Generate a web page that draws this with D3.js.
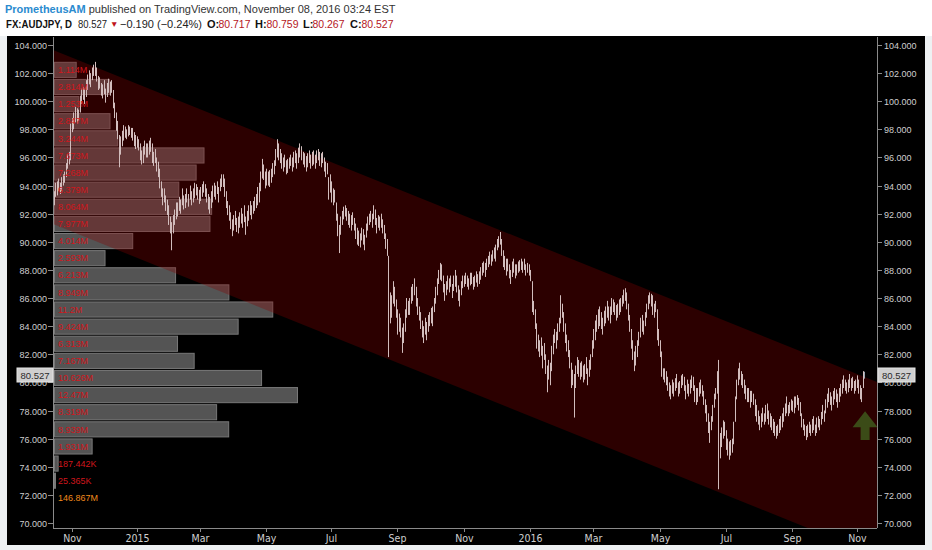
<!DOCTYPE html>
<html><head><meta charset="utf-8">
<script src="https://cdn.jsdelivr.net/npm/d3@7"></script>
<style>
html,body{margin:0;padding:0;background:#ffffff;}
svg{display:block;}
</style></head><body>
<svg id="c" width="932" height="550"></svg>
<script>
// ---------------- DATA ----------------
const startDate = "2014-10-16", endDate = "2016-11-08";   // daily bars (Mon-Fri)
const lows = [
92.6,93.2,
93.3,93.6,93.4,93.6,94.0, 94.2,94.6,95.2,95.5,95.8, 97.8,98.0,98.5,98.4,98.6, 99.2,99.8,100.1,99.8,100.3,
100.8,101.2,101.0,101.5,101.8, 101.8,101.4,100.8,100.9,100.4, 100.2,100.5,99.9,100.3,100.6, 100.4,100.6,99.5,98.8,97.9,
97.3,95.3,96.2,96.8,97.2, 97.4,97.3,97.5,97.6,97.4, 97.2,96.8,96.6,96.7,96.5, 95.8,95.5,95.6,96.2,96.0,
96.0,96.2,96.4,95.6,95.4, 95.6,95.0,94.6,93.8,93.2, 92.6,92.8,92.2,91.9,91.2, 90.6,89.4,90.6,91.2,91.6,
91.8,92.2,92.0,92.6,92.3, 92.4,92.8,92.5,93.0,92.6, 92.8,93.1,93.3,93.0,92.7, 92.9,93.2,93.5,93.2,92.8,
92.3,92.0,92.4,92.8,93.2, 93.0,93.4,92.8,93.6,93.9, 93.9,93.2,92.4,91.9,91.5, 90.9,90.4,90.8,91.2,90.7,
90.6,91.0,91.3,91.0,91.4, 90.5,91.1,91.5,91.9,91.6, 92.0,92.2,92.4,92.6,92.8, 93.6,94.5,94.4,93.8,94.0,
94.0,93.9,94.2,94.6,94.8, 95.4,96.0,95.8,95.6,95.2, 95.0,95.3,94.8,94.9,95.2, 95.4,95.0,95.3,95.6,95.2,
95.6,96.0,95.8,95.5,95.3, 95.0,95.3,95.6,95.2,95.4, 95.5,95.2,95.6,95.8,95.4, 95.3,95.6,95.0,94.6,94.8,
93.0,93.5,92.8,92.6,92.8, 91.5,90.4,89.2,90.5,91.2, 91.6,91.8,91.5,91.2,91.0, 90.8,91.2,90.8,90.2,89.8,
89.7,89.6,90.1,89.8,89.4, 90.3,90.8,91.2,91.4,91.0, 91.6,91.2,90.6,91.0,90.8, 91.0,90.6,90.2,89.5,89.0,
81.8,84.2,84.6,85.6,85.4, 84.6,83.4,83.6,83.2,82.1, 82.8,83.6,84.6,84.8,84.8, 85.6,85.8,86.2,85.4,84.8,
84.4,83.8,83.2,82.8,83.4, 83.0,83.6,84.0,84.2,84.0, 85.0,85.6,86.2,87.0,87.3, 87.2,86.4,85.8,86.2,86.6,
86.4,86.8,86.0,86.5,86.8, 86.4,85.8,85.4,86.2,86.7, 86.8,87.0,86.8,86.6,86.9, 87.0,86.6,86.8,87.1,86.8,
87.0,87.3,87.6,87.8,87.5, 88.0,88.2,88.4,88.3,88.6, 88.8,88.6,89.4,89.6,89.8, 89.0,88.2,88.0,87.6,87.9,
87.4,87.0,87.5,87.8,87.4, 87.6,87.8,87.9,88.0,87.8, 88.0,87.6,87.8,87.6,87.2, 85.0,84.8,83.8,82.4,82.2,
81.8,81.9,81.0,81.6,80.6, 79.3,80.2,79.8,80.8,82.0, 82.8,82.4,83.0,83.6,84.2, 84.6,83.6,82.8,82.2,81.8,
81.0,79.6,79.8,77.5,79.6, 80.6,80.4,80.2,80.4,80.0, 80.2,80.6,79.8,80.4,80.9, 81.8,82.4,83.0,83.6,83.8,
84.0,83.8,83.4,84.0,84.2, 84.6,84.4,84.2,84.8,85.0, 84.8,84.4,84.6,84.8,85.0, 85.4,85.6,85.8,85.2,84.4,
83.6,82.4,81.6,80.8,81.2, 81.8,82.6,83.2,83.6,83.4, 84.0,84.6,85.2,85.6,85.4, 84.8,84.6,85.0,83.0,82.6,
81.8,80.4,80.2,80.0,79.8, 79.4,79.0,78.8,79.2,79.0, 79.4,79.6,79.0,79.2,79.6, 79.8,79.4,78.8,79.2,79.0,
79.2,79.6,79.4,78.6,78.4, 78.6,79.0,79.2,79.0,78.4, 77.8,77.2,76.4,75.7,76.6, 77.2,78.2,78.8,79.2,72.4,
74.6,75.4,76.0,76.2,75.2, 74.8,74.5,74.8,75.0,75.6, 77.2,78.8,79.8,80.2,79.8, 79.6,79.2,78.8,78.6,78.6,
78.2,78.6,78.4,77.6,77.2, 77.0,76.6,76.8,77.2,77.0, 77.2,77.4,77.0,76.8,76.6, 76.4,76.2,76.0,76.2,76.4,
76.6,76.8,77.2,77.6,77.8, 77.6,77.8,78.0,77.9,77.8, 78.2,78.4,78.0,77.6,76.8, 76.6,76.2,75.9,76.1,76.4,
76.2,76.4,76.6,76.2,76.4, 76.8,76.6,77.0,77.4,77.2, 77.8,78.2,78.6,78.4,78.0, 78.4,78.8,78.6,78.2,78.6,
79.0,79.2,79.6,79.4,79.2, 79.3,79.6,79.4,79.6,79.2, 79.4,79.6,79.2,78.8,78.6,
79.6,80.267
];
const highs = [
93.6,94.2,
94.3,94.5,94.2,94.6,94.8, 95.0,95.6,96.2,96.4,98.4, 98.8,99.2,99.6,99.5,99.4, 100.4,100.9,101.0,100.9,101.5,
101.9,102.2,102.0,102.4,102.6, 102.8,102.4,101.8,101.7,101.3, 101.2,101.5,100.9,101.3,101.6, 101.4,101.5,100.8,99.9,99.2,
98.6,97.6,97.5,97.9,98.3, 98.2,98.0,98.3,98.2,98.1, 98.1,97.8,97.6,97.5,97.3, 97.0,96.5,96.8,97.2,97.0,
97.0,97.2,97.4,97.0,96.4, 96.6,96.0,95.7,95.2,94.3, 93.8,93.8,93.3,93.0,92.6, 91.8,91.4,91.9,92.3,92.8,
92.8,93.2,93.0,93.8,93.3, 93.4,93.8,93.4,94.0,93.6, 93.8,94.2,94.1,93.9,93.7, 93.9,94.1,94.3,94.1,93.8,
93.4,93.2,93.6,94.0,94.2, 94.0,94.3,93.9,94.5,94.8, 94.8,94.5,93.6,92.9,92.6, 92.1,91.6,91.9,92.2,91.7,
91.8,92.1,92.4,92.0,92.6, 91.8,92.2,92.6,92.9,92.6, 92.9,93.2,93.4,93.9,94.2, 95.0,95.9,95.5,95.0,95.2,
95.0,95.1,95.2,95.6,95.8, 96.6,97.3,97.0,96.6,96.3, 96.0,96.2,95.8,95.9,96.0, 96.2,96.0,96.4,96.5,96.3,
96.7,97.0,96.8,96.4,96.3, 96.1,96.3,96.5,96.2,96.4, 96.5,96.2,96.5,96.6,96.4, 96.3,96.4,96.0,95.7,95.6,
94.6,94.8,94.3,93.8,93.7, 92.8,92.0,91.2,91.8,92.2, 92.5,92.6,92.4,92.2,92.0, 91.9,92.1,91.7,91.3,91.0,
90.8,90.6,91.0,90.9,90.5, 91.3,91.8,92.0,92.2,92.0, 92.6,92.3,91.7,91.9,91.8, 92.0,91.6,91.2,90.6,90.2,
89.0,86.4,86.2,87.2,86.8, 85.9,85.2,84.9,84.6,83.9, 84.2,85.2,86.0,85.8,86.0, 86.8,87.0,87.4,86.8,86.0,
85.4,85.0,84.4,84.0,84.6, 84.3,84.8,85.0,85.3,85.4, 86.0,86.8,87.4,88.0,88.5, 88.4,87.6,87.0,87.2,87.6,
87.4,87.6,87.0,87.6,88.0, 87.6,86.9,86.6,87.2,87.6, 87.6,87.8,87.6,87.4,87.8, 87.8,87.5,87.6,87.9,87.7,
87.9,88.2,88.5,88.6,88.5, 88.8,89.0,89.3,89.1,89.4, 89.6,89.8,90.2,90.4,90.7, 90.2,89.4,89.0,88.8,88.8,
88.4,88.0,88.6,88.8,88.4, 88.4,88.6,88.7,88.8,88.6, 88.8,88.4,88.5,88.4,88.0, 87.2,85.8,85.2,84.2,83.4,
83.0,83.2,82.6,82.8,82.0, 81.2,81.6,81.4,82.6,83.4, 83.8,83.6,84.2,84.6,86.2, 85.6,85.0,84.2,83.4,83.0,
82.3,81.4,80.9,80.6,81.2, 81.8,81.6,81.4,81.5,81.2, 81.3,81.8,81.0,81.6,82.0, 83.0,83.8,84.4,84.8,85.2,
85.4,85.0,84.6,85.1,85.4, 85.8,85.4,85.4,86.0,85.9, 85.7,85.5,85.6,85.9,86.0, 86.2,86.6,86.7,86.4,85.6,
84.8,83.8,83.0,82.2,82.6, 83.0,83.6,84.6,84.8,84.4, 85.0,85.6,86.2,86.4,86.3, 86.2,85.6,85.8,85.2,83.8,
83.0,82.2,81.0,81.0,80.8, 80.4,80.0,79.8,80.2,80.0, 80.3,80.6,80.0,80.1,80.5, 80.6,80.4,79.8,80.2,79.9,
80.2,80.5,80.4,79.8,79.6, 79.6,80.0,80.2,79.8,79.4, 78.8,78.4,77.8,77.2,77.6, 78.4,79.2,79.6,80.8,81.6,
76.4,76.8,77.3,77.2,76.6, 76.0,75.8,75.9,76.0,77.2, 79.0,80.2,81.0,81.4,80.8, 80.6,80.2,79.8,79.6,79.6,
79.4,79.4,79.2,78.8,78.4, 78.0,77.6,77.8,78.2,77.8, 78.4,78.5,78.0,77.8,77.6, 77.4,77.2,76.9,77.0,77.4,
77.6,77.8,78.2,78.5,79.0, 78.4,78.6,78.8,78.7,79.0, 79.0,79.1,78.9,78.6,77.8, 77.4,77.0,76.9,77.0,77.2,
77.0,77.4,77.6,77.0,77.5, 77.6,77.4,77.9,78.4,78.0, 78.8,79.2,79.6,79.3,79.0, 79.4,79.6,79.5,79.2,79.6,
79.9,80.2,80.5,80.2,80.0, 80.2,80.6,80.3,80.4,80.1, 80.2,80.5,80.2,79.8,79.6,
80.8,80.759
];
const yTicks = [70,72,74,76,78,80,82,84,86,88,90,92,94,96,98,100,102,104];
const xTickDates  = ["2014-11-01","2015-01-01","2015-03-01","2015-05-01","2015-07-01","2015-09-01","2015-11-01",
                     "2016-01-01","2016-03-01","2016-05-01","2016-07-01","2016-09-01","2016-11-01"];
const xTickLabels = ["Nov","2015","Mar","May","Jul","Sep","Nov","2016","Mar","May","Jul","Sep","Nov"];
// volume profile rows, top (high price) to bottom
const profileVolumes = [1.114,2.814,1.253,2.847,3.244,7.673,7.268,6.379,8.064,7.977,4.014,2.593,6.213,
                        8.949,11.2,9.424,6.313,7.167,10.626,12.47,8.319,8.939,1.931,0.187442,0.025365];
const profileLabels  = ["1.114M","2.814M","1.253M","2.847M","3.244M","7.673M","7.268M","6.379M","8.064M","7.977M",
                        "4.014M","2.593M","6.213M","8.949M","11.2M","9.424M","6.313M","7.167M","10.626M","12.47M",
                        "8.319M","8.939M","1.931M","187.442K","25.365K"];
const profileTotal = "146.867M";
const profileRange = [72.40, 102.84];
// descending channel (bar-index, price)
const channelIdx   = [-0.6, 546.3];
const channelUpper = [103.64, 80.03];
const channelLower = [91.27, 67.66];
const lastPrice = 80.527;
const arrowMark = {idx: 538.4, top: 77.95, bottom: 75.9};
const header = {user:"PrometheusAM", pub:" published on TradingView.com, November 08, 2016 03:24 EST",
  sym:"FX:AUDJPY, D", last:"80.527", chg:"\u22120.190 (\u22120.24%)", O:"80.717", H:"80.759", L:"80.267", C:"80.527"};

// ---------------- LAYOUT ----------------
const svg = d3.select("#c");
const P = {left:53, right:877, top:37, bottom:528};
const FONT = "'Liberation Sans',Arial,sans-serif";
const parse = d3.utcParse("%Y-%m-%d");
const days = [];
for (let d = parse(startDate); d <= parse(endDate); d = d3.utcDay.offset(d,1)) {
  const wd = d.getUTCDay(); if (wd !== 0 && wd !== 6) days.push(d);
}
const x = d3.scaleLinear().domain([channelIdx[0], channelIdx[1]]).range([P.left, P.right]);
const y = d3.scaleLinear().domain([70,104]).range([523,45]);

// background
svg.append("rect").attr("x",0).attr("y",0).attr("width",932).attr("height",550).attr("fill","#ffffff");
svg.append("rect").attr("x",0).attr("y",36).attr("width",932).attr("height",514).attr("fill","#eef1f3");
svg.append("rect").attr("x",7).attr("y",36).attr("width",918).attr("height",509).attr("fill","#000");

// header
const h1 = svg.append("text").attr("x",5).attr("y",13).attr("font-family",FONT).attr("font-size",11);
h1.append("tspan").attr("font-weight","bold").attr("fill","#2b8bcf").text(header.user);
h1.append("tspan").attr("fill","#333").text(header.pub);
function htxt(px, str, opts={}) {
  const t = svg.append("text").attr("x",px).attr("y",opts.y||28).attr("font-family",FONT)
    .attr("font-size",opts.size||11).attr("fill",opts.fill||"#222").text(str);
  if (opts.bold) t.attr("font-weight","bold");
  if (opts.len) t.attr("textLength",opts.len).attr("lengthAdjust","spacingAndGlyphs");
  return t;
}
htxt(6, header.sym, {bold:true, fill:"#111", size:10.2, len:66});
htxt(78, header.last, {len:29});
htxt(110, "\u25BC", {fill:"#c0141b", size:8.5, y:27});
htxt(120, header.chg, {len:82});
[["O:",207,header.O],["H:",255,header.H],["L:",303,header.L],["C:",350,header.C]].forEach(([k,px,v])=>{
  const kl = k==="L:" ? 8 : 10;
  htxt(px, k, {bold:true, fill:"#111"});
  htxt(px+kl+1.5, v, {fill:"#b5161d", len:32});
});

// clip
svg.append("defs").append("clipPath").attr("id","plot").append("rect")
  .attr("x",P.left).attr("y",P.top).attr("width",P.right-P.left).attr("height",P.bottom-P.top);
const plot = svg.append("g").attr("clip-path","url(#plot)");

// volume profile
const rowH = (y(profileRange[0]) - y(profileRange[1])) / profileVolumes.length;
const vx = d3.scaleLinear().domain([0, d3.max(profileVolumes)]).range([0, 243]);
const rowTop = i => y(profileRange[1]) + i*rowH;
plot.append("g").selectAll("rect").data(profileVolumes).join("rect")
  .attr("x", P.left+1.5).attr("y", (d,i)=>rowTop(i)+1)
  .attr("width", d=>Math.max(1, vx(d))).attr("height", rowH-2)
  .attr("fill","#545454").attr("stroke","#787878").attr("stroke-width",1);

// channel
const chan = [[channelIdx[0],channelUpper[0]],[channelIdx[1],channelUpper[1]],[channelIdx[1],channelLower[1]],[channelIdx[0],channelLower[0]]];
plot.append("path").attr("d", d3.line().x(d=>x(d[0])).y(d=>y(d[1]))(chan)+"Z")
  .attr("fill","rgb(135,0,0)").attr("fill-opacity",0.33);

// price bars
plot.append("g").selectAll("line").data(lows).join("line")
  .attr("x1",(d,i)=>Math.round(x(i))+0.5).attr("x2",(d,i)=>Math.round(x(i))+0.5)
  .attr("y1",(d,i)=>y(highs[i])).attr("y2",d=>y(d))
  .attr("stroke",(d,i)=> i===lows.length-1 ? "#9aa6b0" : "#d2bdbd").attr("stroke-width",1);

// profile labels
const lab = svg.append("g").attr("font-family",FONT).attr("font-size",9);
lab.selectAll("text").data(profileLabels).join("text")
  .attr("x",58).attr("y",(d,i)=>rowTop(i)+rowH/2+3.2).attr("fill","#d0161c").text(d=>d);
lab.append("text").attr("x",58).attr("y",rowTop(profileVolumes.length)+rowH/2+3.2)
  .attr("fill","#f08a1c").text(profileTotal);

// axes lines
const axisCol = "#8a8a8a";
svg.append("line").attr("x1",P.left+0.5).attr("x2",P.left+0.5).attr("y1",P.top).attr("y2",P.bottom).attr("stroke",axisCol);
svg.append("line").attr("x1",P.right+0.5).attr("x2",P.right+0.5).attr("y1",P.top).attr("y2",P.bottom).attr("stroke",axisCol);
svg.append("line").attr("x1",P.left).attr("x2",P.right).attr("y1",P.bottom+0.5).attr("y2",P.bottom+0.5).attr("stroke",axisCol);

const ax = svg.append("g").attr("font-family",FONT).attr("font-size",9).attr("fill","#cfcfcf");
yTicks.forEach(t=>{
  const yy = Math.round(y(t))+0.5;
  ax.append("line").attr("x1",P.left-5).attr("x2",P.left).attr("y1",yy).attr("y2",yy).attr("stroke",axisCol);
  ax.append("line").attr("x1",P.right).attr("x2",P.right+5).attr("y1",yy).attr("y2",yy).attr("stroke",axisCol);
  ax.append("text").attr("x",P.left-6).attr("y",yy+3.2).attr("text-anchor","end").text(d3.format(".3f")(t));
  ax.append("text").attr("x",P.right+7).attr("y",yy+3.2).text(d3.format(".3f")(t));
});
const xa = svg.append("g").attr("font-family","'Liberation Sans Narrow','DejaVu Sans Condensed',Arial,sans-serif").attr("font-size",10.5).attr("fill","#cfcfcf");
xTickDates.forEach((ds,k)=>{
  const dt = parse(ds);
  const idx = days.findIndex(d=>d>=dt);
  const xx = Math.round(x(idx))+0.5;
  xa.append("line").attr("x1",xx).attr("x2",xx).attr("y1",P.bottom).attr("y2",P.bottom+4).attr("stroke",axisCol);
  xa.append("text").attr("x",xx).attr("y",542).attr("text-anchor","middle").text(xTickLabels[k]);
});

// last price tags
const ly = y(lastPrice);
[[17,36],[878,37]].forEach(([bx,bw])=>{
  svg.append("rect").attr("x",bx).attr("y",ly-7).attr("width",bw).attr("height",14).attr("fill","#cfcfcf").attr("stroke","#e6e6e6");
  svg.append("text").attr("x",bx+bw/2).attr("y",ly+3.5).attr("text-anchor","middle")
    .attr("font-family",FONT).attr("font-size",9.5).attr("fill","#2a2a2a").text(lastPrice.toFixed(3));
});

// up arrow annotation
const axp = x(arrowMark.idx), at = y(arrowMark.top), ab = y(arrowMark.bottom);
const headH = 16, headW = 12.5, shaftW = 4.5;
svg.append("path").attr("d",
  `M${axp},${at} L${axp+headW},${at+headH} L${axp+shaftW},${at+headH} L${axp+shaftW},${ab} L${axp-shaftW},${ab} L${axp-shaftW},${at+headH} L${axp-headW},${at+headH} Z`)
  .attr("fill","#3b4b17");
</script>
</body></html>
